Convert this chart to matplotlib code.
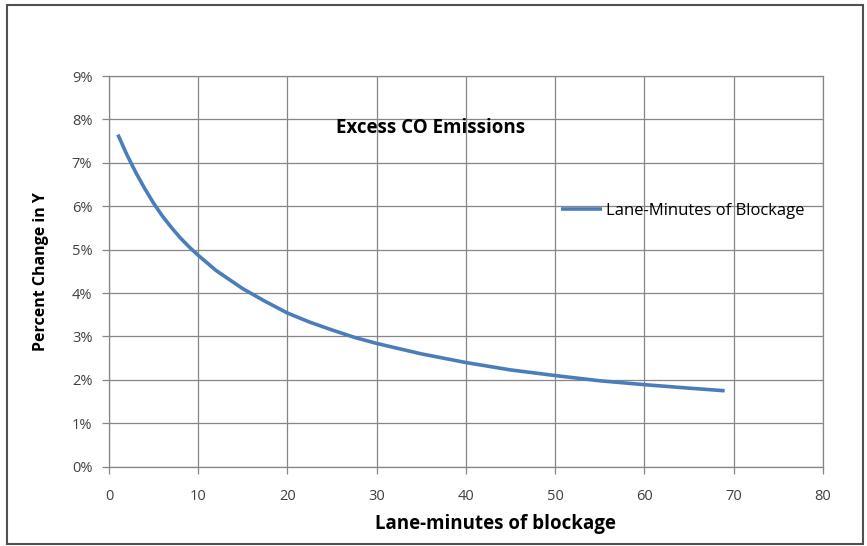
import matplotlib.pyplot as plt
from matplotlib.patches import Rectangle

# values
minutes = [1, 2, 3, 4, 5, 6, 7, 8, 9, 10, 12, 15, 17.5, 20, 22.5, 25, 27.5, 30, 35, 40, 45, 50, 55, 60, 65, 69]
pct_change = [7.65, 7.19, 6.78, 6.41, 6.07, 5.77, 5.51, 5.27, 5.06, 4.87, 4.52, 4.10, 3.81, 3.54,
              3.33, 3.15, 2.98, 2.84, 2.60, 2.40, 2.23, 2.10, 1.98, 1.89, 1.81, 1.75]
x_ticks = [0, 10, 20, 30, 40, 50, 60, 70, 80]
y_ticks = [0, 1, 2, 3, 4, 5, 6, 7, 8, 9]

plt.rcParams['font.family'] = ['Open Sans', 'DejaVu Sans']

fig = plt.figure(figsize=(8.67, 5.46), dpi=100)
ax = fig.add_axes([0.1257, 0.1452, 0.8233, 0.7156])

grid_col = '#868686'
ax.plot(minutes, pct_change, color='#4A7EBB', lw=2.6, label='Lane-Minutes of Blockage',
        solid_capstyle='butt', zorder=3)

ax.set_xlim(0, 80)
ax.set_ylim(0, 9)
ax.set_xticks(x_ticks)
ax.set_yticks(y_ticks)
ax.set_yticklabels([f'{v}%' for v in y_ticks])
ax.grid(True, color=grid_col, lw=0.9)
ax.set_axisbelow(True)
for s in ax.spines.values():
    s.set_color(grid_col)
    s.set_linewidth(0.9)
ax.tick_params(colors=grid_col, labelcolor='#404040', labelsize=10.5, length=5, width=0.9)
ax.tick_params(axis='x', pad=11)
ax.tick_params(axis='y', pad=7)

ax.set_xlabel('Lane-minutes of blockage', fontsize=13.5, fontweight='bold', labelpad=5)
ax.xaxis.set_label_coords(0.542, -0.12)
ax.set_ylabel('Percent Change in Y', fontsize=11.5, fontweight='bold', labelpad=16)

ax.text(36, 7.8, 'Excess CO Emissions', fontsize=13.5, fontweight='bold', ha='center', va='center')

ax.legend(loc='center left', bbox_to_anchor=(0.621, 0.654), frameon=False, fontsize=12,
          handlelength=2.5, handletextpad=0.2, borderpad=0)

fig.patches.append(Rectangle((0.008, 0.004), 0.987, 0.987, transform=fig.transFigure,
                             fill=False, edgecolor='#505050', lw=1.5))

fig.savefig('out.png', dpi=100)
